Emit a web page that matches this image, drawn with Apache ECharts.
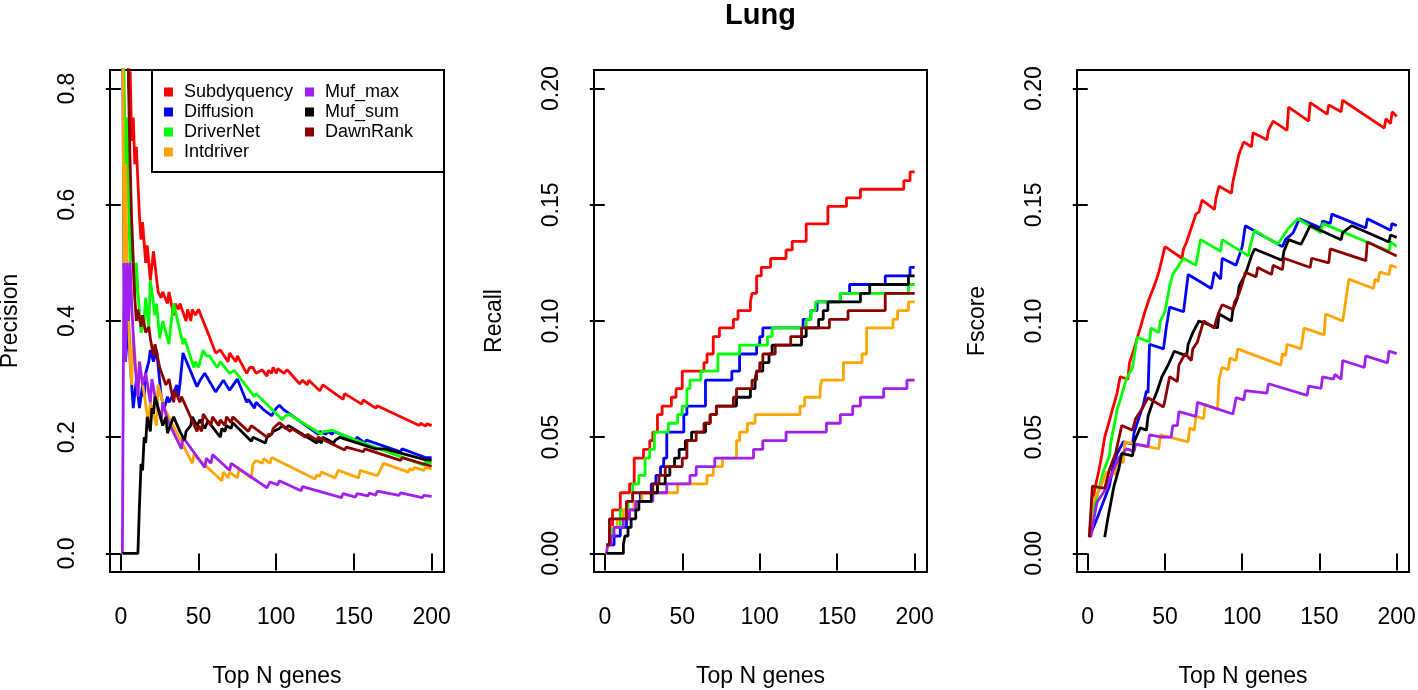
<!DOCTYPE html>
<html><head><meta charset="utf-8">
<script src="https://cdn.jsdelivr.net/npm/echarts@6/dist/echarts.min.js"></script>
<style>html,body{margin:0;padding:0;background:#fff}#c{width:1418px;height:690px}</style>
</head><body><div id="c"></div>
<script>
// ---------- categories / ticks ----------
const methods = ['Subdyquency','Diffusion','DriverNet','Intdriver','Muf_max','Muf_sum','DawnRank'];
const legendCol1 = ['Subdyquency','Diffusion','DriverNet','Intdriver'];
const legendCol2 = ['Muf_max','Muf_sum','DawnRank'];
const xTicks = [0,50,100,150,200];
const xTickLabels = ['0','50','100','150','200'];
const precTicks = [0,0.2,0.4,0.6,0.8];
const precTickLabels = ['0.0','0.2','0.4','0.6','0.8'];
const smallTicks = [0,0.05,0.1,0.15,0.2];
const smallTickLabels = ['0.00','0.05','0.10','0.15','0.20'];

// ---------- Precision (Top N, value) ----------
const precSubdyquency = [[1,1],[4,1],[5,0.8],[6,0.83],[7,0.71],[8,0.75],[9,0.67],[10,0.7],[11,0.64],[12,0.58],[13,0.54],[14,0.57],[16,0.5],[17,0.53],[19,0.47],[21,0.52],[24,0.45],[26,0.44],[27,0.45],[30,0.43],[31,0.45],[34,0.41],[35,0.43],[37,0.42],[38,0.43],[42,0.40],[43,0.42],[45,0.40],[46,0.42],[48,0.41],[50,0.42],[51,0.42],[56,0.38],[61,0.345],[64,0.35],[69,0.33],[70,0.345],[74,0.33],[75,0.34],[81,0.31],[83,0.32],[85,0.32],[87,0.31],[91,0.316],[94,0.305],[95,0.315],[97,0.31],[98,0.32],[100,0.31],[101,0.318],[105,0.31],[107,0.316],[115,0.292],[117,0.298],[120,0.29],[121,0.298],[128,0.28],[130,0.29],[143,0.265],[144,0.275],[155,0.257],[156,0.264],[164,0.25],[165,0.254],[192,0.22],[193,0.224],[196,0.219],[197,0.223],[200,0.22]];
const precDiffusion = [[1,1],[2,0.5],[3,0.33],[5,0.4],[6,0.33],[8,0.25],[10,0.3],[12,0.25],[14,0.29],[15,0.27],[16,0.31],[18,0.33],[19,0.35],[21,0.33],[23,0.35],[26,0.27],[28,0.25],[30,0.27],[31,0.26],[33,0.27],[36,0.29],[37,0.27],[38,0.29],[40,0.345],[49,0.287],[51,0.298],[54,0.31],[61,0.278],[66,0.298],[70,0.281],[75,0.3],[81,0.26],[82,0.265],[86,0.25],[87,0.26],[92,0.247],[97,0.237],[98,0.24],[100,0.25],[102,0.255],[105,0.247],[127,0.205],[128,0.21],[132,0.205],[133,0.21],[136,0.205],[137,0.21],[151,0.195],[152,0.2],[157,0.19],[158,0.195],[180,0.175],[181,0.18],[196,0.165],[197,0.168],[200,0.165]];
const precDriverNet = [[1,1],[2,1],[3,0.67],[4,0.75],[5,0.6],[6,0.5],[7,0.57],[8,0.5],[9,0.44],[10,0.5],[11,0.45],[13,0.38],[15,0.4],[16,0.44],[18,0.39],[19,0.47],[22,0.41],[23,0.43],[25,0.37],[27,0.4],[31,0.36],[32,0.39],[34,0.43],[40,0.36],[41,0.37],[47,0.32],[48,0.33],[50,0.32],[51,0.33],[53,0.35],[55,0.34],[57,0.34],[62,0.32],[64,0.33],[70,0.31],[73,0.315],[86,0.27],[87,0.275],[104,0.23],[105,0.235],[108,0.24],[129,0.205],[130,0.21],[133,0.21],[136,0.212],[151,0.195],[152,0.198],[195,0.152],[196,0.158],[200,0.155]];
const precIntdriver = [[1,1],[2,0.5],[3,0.67],[4,0.5],[5,0.4],[6,0.33],[7,0.29],[8,0.38],[11,0.27],[12,0.33],[18,0.22],[19,0.26],[23,0.22],[24,0.29],[26,0.27],[28,0.25],[46,0.155],[47,0.17],[65,0.125],[66,0.14],[69,0.13],[70,0.14],[75,0.13],[76,0.145],[84,0.13],[85,0.153],[87,0.16],[91,0.155],[92,0.163],[96,0.155],[97,0.165],[125,0.128],[126,0.135],[128,0.133],[129,0.14],[138,0.13],[139,0.137],[140,0.143],[153,0.13],[154,0.143],[165,0.134],[166,0.138],[169,0.155],[185,0.14],[186,0.146],[188,0.143],[189,0.148],[195,0.143],[196,0.148],[200,0.145]];
const precMufMax = [[1,0],[2,0.5],[3,0.33],[4,0.5],[5,0.4],[6,0.5],[7,0.43],[8,0.375],[9,0.33],[11,0.27],[12,0.33],[14,0.29],[16,0.31],[19,0.26],[20,0.3],[22,0.27],[26,0.23],[27,0.26],[30,0.23],[31,0.23],[39,0.18],[40,0.2],[54,0.148],[55,0.164],[58,0.155],[59,0.17],[70,0.143],[71,0.155],[94,0.113],[96,0.123],[101,0.118],[102,0.125],[116,0.108],[117,0.115],[142,0.096],[143,0.103],[151,0.097],[152,0.103],[159,0.099],[160,0.104],[164,0.1],[165,0.107],[179,0.1],[180,0.104],[194,0.096],[195,0.1],[200,0.098]];
const precMufSum = [[1,0],[11,0],[12,0.083],[13,0.154],[14,0.143],[15,0.2],[16,0.19],[17,0.235],[19,0.21],[20,0.25],[21,0.24],[22,0.27],[25,0.24],[27,0.22],[29,0.235],[30,0.207],[34,0.235],[38,0.21],[41,0.195],[42,0.21],[45,0.22],[46,0.235],[49,0.22],[51,0.23],[54,0.215],[56,0.228],[64,0.2],[65,0.215],[67,0.21],[68,0.22],[71,0.215],[72,0.225],[84,0.193],[85,0.2],[93,0.19],[94,0.2],[97,0.205],[98,0.21],[102,0.215],[104,0.22],[106,0.215],[108,0.22],[126,0.19],[127,0.195],[129,0.19],[130,0.2],[137,0.19],[138,0.195],[141,0.2],[143,0.198],[144,0.2],[164,0.18],[165,0.182],[170,0.18],[171,0.182],[195,0.162],[196,0.163],[200,0.16]];
const precDawnRank = [[1,1],[4,1],[5,0.8],[6,0.67],[7,0.57],[8,0.5],[9,0.44],[10,0.4],[11,0.42],[13,0.39],[14,0.41],[16,0.38],[18,0.39],[19,0.37],[21,0.34],[22,0.36],[25,0.32],[29,0.29],[31,0.3],[34,0.26],[35,0.28],[38,0.26],[39,0.27],[49,0.21],[50,0.22],[52,0.21],[53,0.24],[58,0.22],[59,0.235],[63,0.22],[64,0.23],[67,0.22],[68,0.235],[71,0.225],[72,0.235],[82,0.21],[83,0.215],[84,0.22],[94,0.2],[95,0.205],[97,0.205],[98,0.215],[100,0.22],[102,0.225],[109,0.21],[110,0.215],[119,0.2],[120,0.205],[126,0.195],[127,0.2],[144,0.178],[145,0.183],[156,0.175],[157,0.18],[180,0.16],[181,0.165],[200,0.15]];

// ---------- Recall (step points: Top N where value changes) ----------
const recSubdyquency = [[1,0.0037],[3,0.0112],[5,0.0187],[10,0.0261],[16,0.0299],[19,0.041],[25,0.0448],[29,0.0485],[31,0.0522],[34,0.0597],[37,0.0634],[43,0.0672],[46,0.0709],[50,0.0784],[64,0.0821],[66,0.0858],[70,0.0933],[74,0.097],[83,0.1007],[86,0.1045],[94,0.1082],[95,0.1119],[98,0.1194],[101,0.1231],[107,0.1269],[117,0.1306],[121,0.1343],[130,0.1418],[144,0.1493],[156,0.153],[165,0.1567],[193,0.1604],[197,0.1642],[200,0.1642]];
const recDiffusion = [[1,0.0037],[6,0.0075],[10,0.0112],[14,0.0149],[16,0.0187],[19,0.0224],[23,0.0261],[30,0.0299],[33,0.0336],[36,0.0373],[38,0.041],[40,0.0522],[51,0.0597],[53,0.0634],[65,0.0746],[82,0.0784],[87,0.0858],[98,0.0896],[100,0.0933],[102,0.097],[128,0.1007],[133,0.1045],[137,0.1082],[152,0.1119],[158,0.1157],[181,0.1194],[197,0.1231],[200,0.1231]];
const recDriverNet = [[1,0.0037],[3,0.0075],[5,0.0112],[10,0.0187],[15,0.0224],[18,0.0299],[22,0.0336],[26,0.041],[29,0.0448],[32,0.0522],[41,0.056],[47,0.0597],[50,0.0634],[53,0.0709],[55,0.0746],[62,0.0784],[73,0.0858],[87,0.0896],[105,0.0933],[108,0.097],[130,0.1007],[133,0.1045],[136,0.1082],[152,0.1119],[196,0.1157],[200,0.1157]];
const recIntdriver = [[1,0.0037],[3,0.0112],[8,0.0149],[12,0.0187],[19,0.0224],[24,0.0261],[47,0.0299],[66,0.0336],[70,0.0373],[76,0.041],[85,0.0485],[87,0.0522],[92,0.056],[97,0.0597],[126,0.0634],[129,0.0672],[139,0.0709],[140,0.0746],[154,0.0821],[166,0.0858],[169,0.097],[186,0.1007],[189,0.1045],[196,0.1082],[200,0.1082]];
const recMufMax = [[1,0],[2,0.0037],[4,0.0075],[6,0.0112],[12,0.0149],[16,0.0187],[20,0.0224],[31,0.0261],[40,0.0299],[55,0.0336],[59,0.0373],[71,0.041],[96,0.0448],[102,0.0485],[117,0.0522],[143,0.056],[152,0.0597],[160,0.0634],[165,0.0672],[180,0.0709],[195,0.0746],[200,0.0746]];
const recMufSum = [[1,0],[12,0.0037],[13,0.0075],[15,0.0112],[17,0.0149],[20,0.0187],[22,0.0224],[30,0.0261],[34,0.0299],[39,0.0336],[42,0.0373],[45,0.041],[48,0.0448],[52,0.0485],[56,0.0522],[65,0.056],[68,0.0597],[72,0.0634],[85,0.0672],[94,0.0709],[97,0.0746],[98,0.0784],[102,0.0821],[106,0.0858],[108,0.0896],[127,0.0933],[130,0.097],[138,0.1007],[141,0.1045],[144,0.1082],[165,0.1119],[171,0.1157],[196,0.1194],[200,0.1194]];
const recDawnRank = [[1,0.0037],[3,0.0149],[14,0.0224],[18,0.0261],[31,0.0299],[35,0.0336],[39,0.0373],[50,0.041],[53,0.0485],[59,0.0522],[64,0.056],[68,0.0597],[72,0.0634],[83,0.0672],[85,0.0709],[95,0.0746],[98,0.0784],[100,0.0821],[102,0.0858],[110,0.0896],[120,0.0933],[127,0.097],[145,0.1007],[157,0.1045],[181,0.1119],[200,0.1119]];

// ---------- Fscore (Top N, value) ----------
const fSubdyquency = [[1,0.007],[3,0.022],[5,0.029],[7,0.035],[9,0.042],[11,0.05],[14,0.057],[16,0.062],[19,0.069],[21,0.076],[26,0.075],[27,0.082],[30,0.088],[34,0.097],[37,0.104],[40,0.11],[43,0.115],[46,0.121],[50,0.132],[61,0.127],[62,0.131],[64,0.134],[66,0.138],[70,0.146],[72,0.147],[74,0.152],[82,0.148],[83,0.153],[85,0.158],[93,0.155],[94,0.16],[95,0.163],[98,0.172],[101,0.177],[106,0.175],[107,0.181],[116,0.178],[117,0.182],[120,0.186],[129,0.182],[130,0.192],[143,0.186],[144,0.194],[155,0.189],[156,0.193],[164,0.19],[165,0.195],[192,0.183],[193,0.187],[196,0.185],[197,0.19],[200,0.188]];
const fDiffusion = [[1,0.007],[6,0.015],[10,0.022],[14,0.029],[16,0.036],[19,0.043],[23,0.048],[29,0.047],[30,0.052],[33,0.058],[36,0.064],[38,0.07],[39,0.069],[40,0.09],[49,0.088],[51,0.098],[53,0.106],[62,0.104],[65,0.12],[80,0.114],[82,0.121],[86,0.118],[87,0.127],[96,0.124],[98,0.128],[100,0.132],[102,0.141],[126,0.132],[128,0.135],[133,0.138],[137,0.144],[151,0.14],[152,0.143],[157,0.142],[158,0.146],[180,0.14],[181,0.144],[196,0.139],[197,0.142],[200,0.141]];
const fDriverNet = [[1,0.007],[3,0.015],[5,0.022],[10,0.035],[14,0.042],[15,0.048],[18,0.058],[19,0.062],[21,0.066],[25,0.075],[29,0.08],[32,0.093],[40,0.091],[41,0.097],[46,0.095],[47,0.1],[50,0.104],[53,0.115],[55,0.12],[57,0.122],[62,0.127],[70,0.124],[73,0.135],[86,0.13],[87,0.135],[104,0.128],[105,0.132],[108,0.139],[123,0.133],[130,0.14],[133,0.142],[136,0.144],[151,0.138],[152,0.142],[195,0.13],[196,0.134],[200,0.132]];
const fIntdriver = [[1,0.007],[3,0.022],[8,0.028],[12,0.035],[18,0.034],[19,0.04],[23,0.039],[24,0.048],[46,0.045],[47,0.051],[65,0.048],[66,0.054],[69,0.053],[70,0.059],[75,0.058],[76,0.064],[84,0.062],[85,0.075],[87,0.08],[91,0.079],[92,0.084],[96,0.083],[97,0.088],[125,0.081],[126,0.086],[128,0.085],[129,0.09],[138,0.088],[139,0.092],[140,0.097],[153,0.094],[154,0.103],[165,0.1],[166,0.104],[169,0.118],[185,0.114],[186,0.118],[188,0.117],[189,0.121],[195,0.12],[196,0.124],[200,0.123]];
const fMufMax = [[2,0.007],[4,0.015],[6,0.022],[12,0.028],[16,0.035],[20,0.041],[25,0.045],[30,0.044],[31,0.047],[39,0.046],[40,0.051],[48,0.05],[54,0.05],[55,0.055],[58,0.055],[59,0.061],[70,0.059],[71,0.065],[94,0.06],[96,0.067],[101,0.066],[102,0.07],[116,0.069],[117,0.073],[142,0.068],[143,0.072],[151,0.071],[152,0.076],[159,0.075],[160,0.077],[164,0.075],[165,0.083],[179,0.08],[180,0.085],[194,0.082],[195,0.087],[200,0.086]];
const fMufSum = [[11,0.007],[12,0.007],[13,0.015],[15,0.022],[17,0.029],[20,0.036],[22,0.043],[29,0.042],[30,0.048],[34,0.054],[38,0.053],[39,0.059],[42,0.065],[45,0.07],[48,0.076],[52,0.081],[56,0.087],[64,0.085],[65,0.09],[68,0.095],[72,0.1],[84,0.097],[85,0.103],[93,0.1],[94,0.105],[97,0.11],[98,0.115],[102,0.12],[104,0.124],[106,0.128],[108,0.131],[126,0.126],[127,0.13],[130,0.135],[138,0.133],[141,0.137],[144,0.141],[164,0.135],[165,0.138],[171,0.141],[195,0.134],[196,0.137],[200,0.136]];
const fDawnRank = [[1,0.007],[3,0.029],[11,0.028],[14,0.036],[18,0.043],[22,0.055],[29,0.053],[31,0.058],[35,0.062],[39,0.067],[49,0.063],[50,0.066],[53,0.076],[58,0.074],[59,0.081],[63,0.086],[67,0.083],[68,0.088],[71,0.091],[75,0.1],[82,0.097],[83,0.1],[85,0.104],[87,0.107],[94,0.105],[95,0.108],[98,0.112],[100,0.116],[102,0.121],[109,0.119],[110,0.123],[119,0.12],[120,0.124],[126,0.122],[127,0.127],[144,0.123],[145,0.127],[156,0.125],[157,0.131],[180,0.126],[181,0.134],[200,0.128]];

// ---------- styles ----------
const colors = {Subdyquency:'#FF0000',Diffusion:'#0000FF',DriverNet:'#00FF00',Intdriver:'#FFA500',Muf_max:'#A020F0',Muf_sum:'#000000',DawnRank:'#8B0000'};
const FONT = 'Liberation Sans, Arial, Helvetica, sans-serif';

const panels = [
  {data:[precSubdyquency,precDiffusion,precDriverNet,precIntdriver,precMufMax,precMufSum,precDawnRank], name:'Precision', ticks:precTicks, labels:precTickLabels, ymin:-0.032, ymax:0.832, step:false},
  {data:[recSubdyquency,recDiffusion,recDriverNet,recIntdriver,recMufMax,recMufSum,recDawnRank], name:'Recall', ticks:smallTicks, labels:smallTickLabels, ymin:-0.008, ymax:0.208, step:'end'},
  {data:[fSubdyquency,fDiffusion,fDriverNet,fIntdriver,fMufMax,fMufSum,fDawnRank], name:'Fscore', ticks:smallTicks, labels:smallTickLabels, ymin:-0.008, ymax:0.208, step:false}
];
const gridBoxes = [
  {left:110, top:70, width:334, height:502},
  {left:594, top:70, width:333, height:502},
  {left:1077, top:70, width:332, height:502}
];

const grids = [], xAxes = [], yAxes = [], series = [];
panels.forEach((p, i) => {
  grids.push(Object.assign({show:true, borderColor:'#000', borderWidth:2, backgroundColor:'transparent', containLabel:false, outerBoundsMode:'none'}, gridBoxes[i]));
  xAxes.push({
    gridIndex:i, type:'value', min:-6.96, max:207.96,
    axisLine:{show:false}, splitLine:{show:false},
    axisTick:{show:true, customValues:xTicks, length:17, lineStyle:{color:'#000', width:2}},
    axisLabel:{customValues:xTicks, margin:34, fontSize:23, color:'#000', fontFamily:FONT,
      formatter:v => { const k = xTicks.indexOf(v); return k >= 0 ? xTickLabels[k] : ''; }},
    name:'Top N genes', nameLocation:'middle', nameGap:93,
    nameTextStyle:{fontSize:23, color:'#000', fontFamily:FONT}
  });
  yAxes.push({
    gridIndex:i, type:'value', min:p.ymin, max:p.ymax,
    axisLine:{show:false}, splitLine:{show:false},
    axisTick:{show:true, customValues:p.ticks, length:15, lineStyle:{color:'#000', width:2}},
    axisLabel:{customValues:p.ticks, rotate:90, margin:31, fontSize:23, color:'#000', fontFamily:FONT,
      formatter:v => { let k = -1; p.ticks.forEach((t,j)=>{ if (Math.abs(t-v) < 1e-9) k = j; }); return k >= 0 ? p.labels[k] : ''; }},
    name:p.name, nameLocation:'middle', nameGap:88,
    nameTextStyle:{fontSize:23, color:'#000', fontFamily:FONT}
  });
  methods.forEach((m, j) => {
    series.push({
      name:m, type:'line', xAxisIndex:i, yAxisIndex:i, data:p.data[j],
      showSymbol:false, symbol:'none', step:p.step, clip:true,
      color:colors[m], lineStyle:{color:colors[m], width:2.8}, z:2+j
    });
  });
});

const legendBase = {
  orient:'vertical', top:82, padding:0, itemGap:0, itemWidth:9, itemHeight:9, icon:'rect',
  selectedMode:false, z:20,
  textStyle:{fontSize:18, color:'#000', fontFamily:FONT, lineHeight:20, padding:[0,0,0,6]}
};

const chart = echarts.init(document.getElementById('c'), null, {renderer:'canvas'});
chart.setOption({
  animation:false,
  backgroundColor:'#fff',
  title:{text:'Lung', left:725, top:1, padding:0, textStyle:{fontSize:29, fontWeight:'bold', color:'#000', fontFamily:FONT}},
  grid:grids, xAxis:xAxes, yAxis:yAxes,
  legend:[
    Object.assign({}, legendBase, {left:164, data:legendCol1}),
    Object.assign({}, legendBase, {left:305, data:legendCol2})
  ],
  graphic:[{type:'rect', shape:{x:152, y:70, width:292, height:102}, style:{fill:'#fff', stroke:'#000', lineWidth:2}, z:15}],
  series:series
});
</script></body></html>
